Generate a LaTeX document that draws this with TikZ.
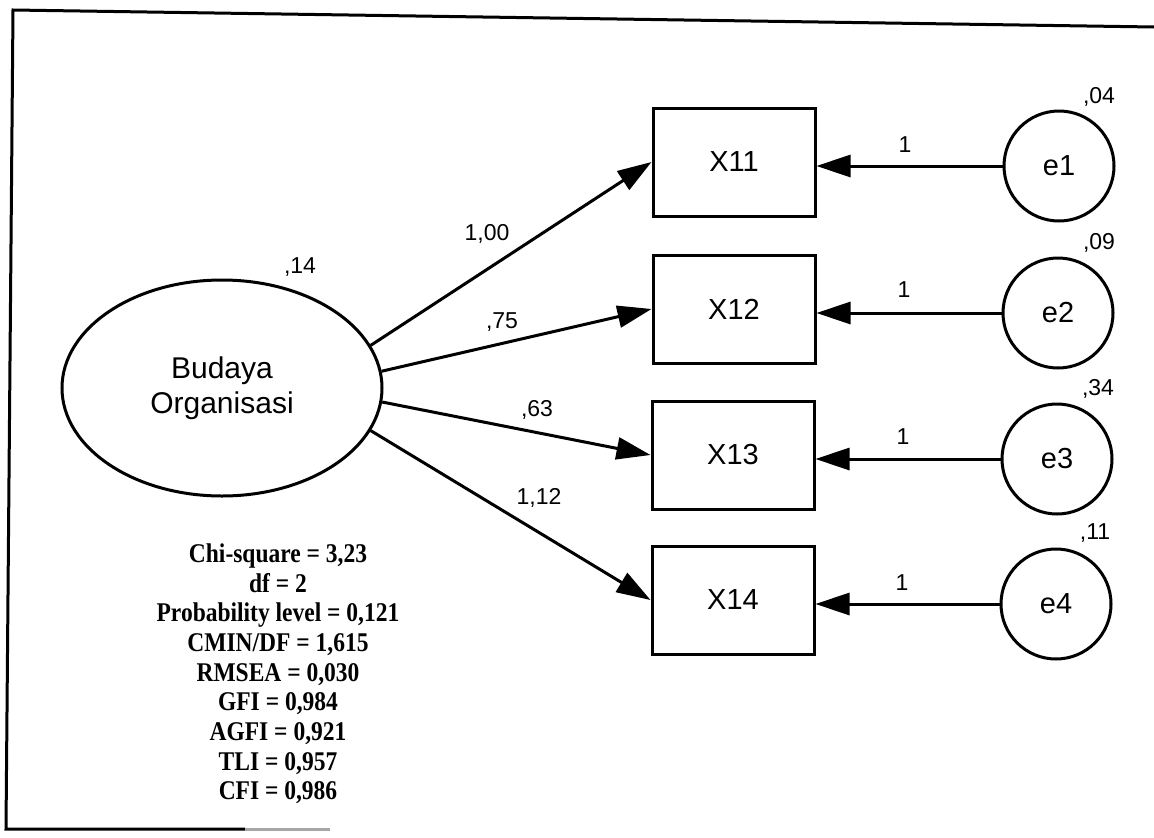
\documentclass[tikz,border=0pt]{standalone}
\usepackage{fontspec}
\setmainfont{Liberation Sans}
\newfontfamily\tmsfont{Liberation Serif}
\usetikzlibrary{arrows.meta,shapes.geometric}
\tikzset{
  frameline/.style={line width=3pt,black},
  latent/.style={draw,ellipse,line width=3pt,minimum width=320pt,minimum height=216pt,inner sep=0pt,align=center,font=\fontsize{30}{35}\selectfont},
  obsbox/.style={draw,rectangle,line width=3pt,minimum width=162pt,minimum height=108pt,inner sep=0pt,font=\fontsize{29}{34}\selectfont},
  errc/.style={draw,circle,line width=3pt,minimum size=110pt,inner sep=0pt,font=\fontsize{29}{34}\selectfont},
  lbl/.style={inner sep=0pt,font=\fontsize{23}{26}\selectfont},
  path/.style={line width=3pt,-{Triangle[length=34pt,width=22pt]}},
  stats/.style={inner sep=0pt,align=center,transform shape,font=\tmsfont\bfseries\fontsize{23.5}{25.8}\selectfont}
}
\begin{document}
\begin{tikzpicture}[x=1pt,y=-1pt]
\useasboundingbox (0,0) rectangle (1154,838);
% frame
\draw[frameline] (1154,27) -- (13,10) -- (6,829) -- (245,829);
\draw[line width=3pt,black!35] (245,829) -- (330,829);
% latent
\node[latent] (BO) at (222,388) {Budaya\\Organisasi};
\node[lbl] (v14) at (300,267) {,14};
% observed
\node[obsbox] (X11) at (734,162) {X11};
\node[obsbox] (X12) at (734,309) {X12};
\node[obsbox] (X13) at (733,455) {X13};
\node[obsbox] (X14) at (733,600) {X14};
% errors
\node[errc] (e1) at (1059,166) {e1};
\node[errc] (e2) at (1058,313) {e2};
\node[errc] (e3) at (1057,459) {e3};
\node[errc] (e4) at (1056,604) {e4};
\node[lbl] (v04) at (1099,97) {,04};
\node[lbl] (v09) at (1099,243) {,09};
\node[lbl] (v34) at (1098,389) {,34};
\node[lbl] (v11) at (1095,533) {,11};
% loadings
\draw[path] (BO.16) -- (X11.west);
\draw[path] (BO.6) -- (X12.west);
\draw[path] (BO.-5) -- (X13.west);
\draw[path] (BO.-16) -- (X14.west);
\node[lbl] (l100) at (487,234) {1,00};
\node[lbl] (l75) at (502,322) {,75};
\node[lbl] (l63) at (537,410) {,63};
\node[lbl] (l112) at (539,498) {1,12};
% error paths
\draw[path] (e1) -- (e1 -| X11.east);
\draw[path] (e2) -- (e2 -| X12.east);
\draw[path] (e3) -- (e3 -| X13.east);
\draw[path] (e4) -- (e4 -| X14.east);
\node[lbl] (o1) at (905,145) {1};
\node[lbl] (o2) at (904,290) {1};
\node[lbl] (o3) at (903,437) {1};
\node[lbl] (o4) at (902,583) {1};
% fit statistics
\begin{scope}[shift={(278,674)},yscale=1.15]
\node[stats] (fit) at (0,0) {Chi-square = 3,23\\df = 2\\Probability level = 0,121\\CMIN/DF = 1,615\\RMSEA = 0,030\\GFI = 0,984\\AGFI = 0,921\\TLI = 0,957\\CFI = 0,986};
\end{scope}
\end{tikzpicture}
\end{document}
